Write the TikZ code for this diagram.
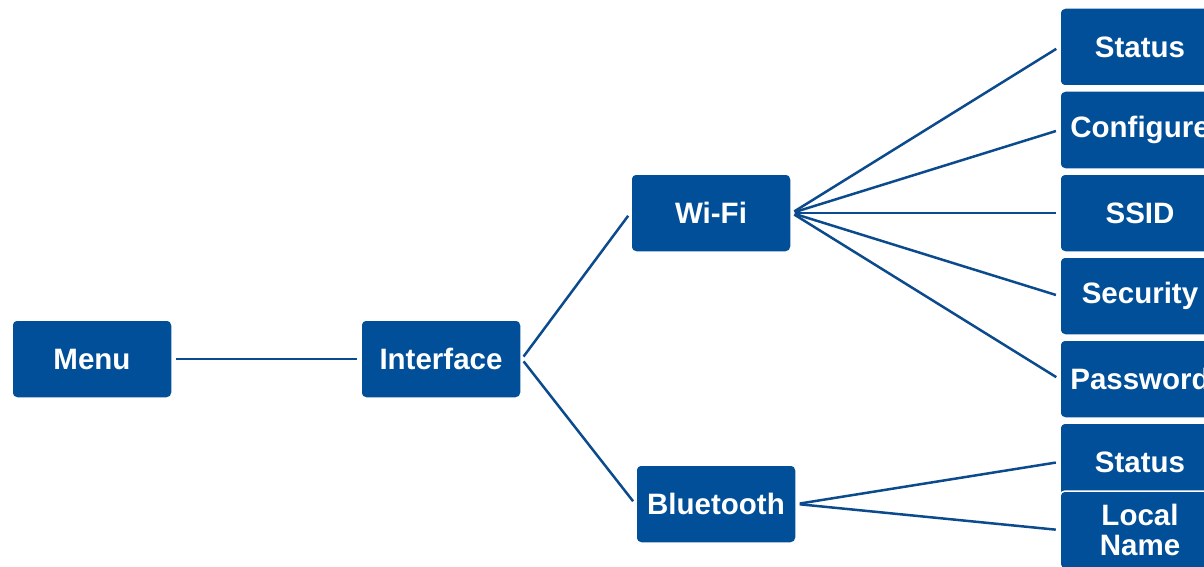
\documentclass[tikz,border=0pt]{standalone}
\usepackage{fontspec}
\setmainfont{Liberation Sans}
\definecolor{boxblue}{HTML}{004F98}
\definecolor{lineblue}{HTML}{0B4A8C}
\begin{document}
\begin{tikzpicture}[x=1pt,y=-1pt,
  box/.style={fill=boxblue, draw=white, line width=1.5pt, rounded corners=5pt, minimum width=160pt, minimum height=78pt,
    text=white, font=\fontsize{29.5}{30}\selectfont\bfseries, align=center, inner sep=0pt},
  conn/.style={draw=lineblue, line width=2.5pt, shorten >=3.5pt, shorten <=3pt}]
\clip (0,0) rectangle (1204,567);
\node[box] (menu) at (92,359) {Menu};
\node[box] (iface) at (441,359) {Interface};
\node[box] (wifi) at (711,213) {Wi-Fi};
\node[box] (bt) at (716,504) {Bluetooth};
\node[box] (ws) at (1140,47) {Status};
\node[box] (wc) at (1140,130) {Configure};
\node[box] (wid) at (1140,213) {SSID};
\node[box] (wsec) at (1140,296) {Security};
\node[box] (wpw) at (1140,379) {Password};
\node[box] (bs) at (1140,462) {Status};
\node[box] (bn) at (1140,530) {Local\\Name};
\draw[conn] (menu.east) -- (iface.west);
\draw[conn] (iface.east) -- (wifi.west);
\draw[conn] (iface.east) -- (bt.west);
\foreach \t in {ws,wc,wid,wsec,wpw}
  \draw[conn] (wifi.east) -- (\t.west);
\draw[conn] (bt.east) -- (bs.west);
\draw[conn] (bt.east) -- (bn.west);
\end{tikzpicture}
\end{document}
